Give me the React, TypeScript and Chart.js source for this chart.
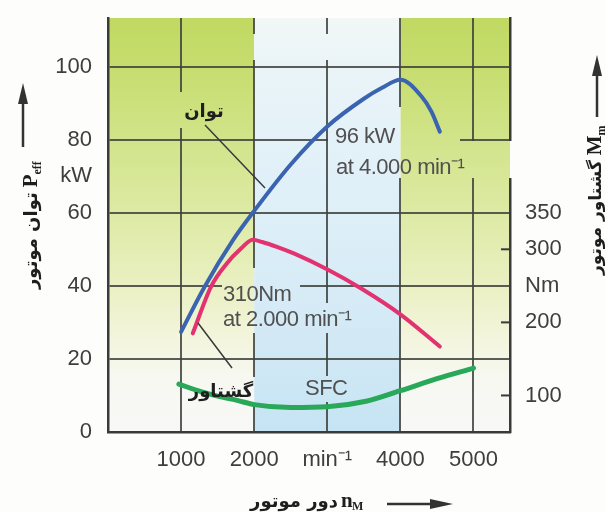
import React, { useEffect, useRef } from 'react';
import { Chart, registerables } from 'chart.js';
Chart.register(...registerables);

// ---------- data ----------
const rpmTicks = [1000, 2000, 3000, 4000, 5000];
const rpmTickLabels = ['1000', '2000', 'min⁻¹', '4000', '5000'];
const kwTicks = [0, 20, 40, 60, 70, 80, 100];
const kwTickLabels = ['0', '20', '40', '60', 'kW', '80', '100'];
const nmTicks = [100, 200, 250, 300, 350];
const nmTickLabels = ['100', '200', 'Nm', '300', '350'];
const nmTickMarks = [100, 200, 300];

const powerRpm = [1000, 1320, 1710, 2000, 2500, 3000, 3500, 3750, 4000, 4290, 4425, 4540];
const powerKw = [27.4, 39.7, 52.5, 60.5, 73.2, 83.6, 91.2, 94.2, 96.4, 91.8, 87.7, 82.2];
const torqueRpm = [1160, 1410, 1620, 1820, 1980, 2110, 2320, 2550, 3010, 3470, 4000, 4540];
const torqueNm = [185, 249, 280, 301, 313, 310, 303, 294, 272, 246, 211, 167];
const sfcRpm = [970, 1250, 1500, 1780, 2000, 2500, 3000, 3530, 4000, 4500, 5000];
const sfcVal = [13.1, 11.2, 9.8, 8.6, 7.5, 6.7, 6.9, 8.4, 11.3, 14.6, 17.5];

const powerLabel = 'توان';
const torqueLabel = 'گشتاور';
const sfcLabel = 'SFC';
const powerNote = ['96 kW', 'at 4.000 min⁻¹'];
const torqueNote = ['310Nm', 'at 2.000 min⁻¹'];
const leftTitle = 'توان موتور';
const rightTitle = 'گشتاور موتور';
const bottomTitle = 'دور موتور';

// ---------- styles ----------
const LAT = '"Liberation Sans", Arial, sans-serif';
const FA = '"DejaVu Sans", sans-serif';
const SER = '"Liberation Serif", "DejaVu Serif", serif';
const TXT = '#3e3e3e';
const GRID = 'rgba(62,66,60,0.85)';
const FRAME = '#3a3a3a';

function paintBg(ctx: CanvasRenderingContext2D, area: any, xs: any, ys: any) {
  const { left, right, top, bottom } = area;
  const h = bottom - top;
  const f = (v: number) => Math.min(1, Math.max(0, (ys.getPixelForValue(v) - top) / h));
  const x2 = xs.getPixelForValue(2000);
  const x4 = xs.getPixelForValue(4000);
  const green = ctx.createLinearGradient(0, top, 0, bottom);
  green.addColorStop(0, 'rgb(192,217,98)');
  green.addColorStop(f(100), 'rgb(198,221,110)');
  green.addColorStop(f(80), 'rgb(209,228,138)');
  green.addColorStop(f(60), 'rgb(221,234,164)');
  green.addColorStop(f(40), 'rgb(234,240,194)');
  green.addColorStop(f(25), 'rgb(243,245,222)');
  green.addColorStop(f(14), 'rgb(247,248,242)');
  green.addColorStop(1, 'rgb(248,248,246)');
  const blue = ctx.createLinearGradient(0, top, 0, bottom);
  blue.addColorStop(0, 'rgb(242,247,246)');
  blue.addColorStop(f(100), 'rgb(234,244,248)');
  blue.addColorStop(f(60), 'rgb(222,239,248)');
  blue.addColorStop(f(20), 'rgb(208,232,245)');
  blue.addColorStop(1, 'rgb(198,228,244)');
  ctx.fillStyle = green;
  ctx.fillRect(left, top, x2 - left, h);
  ctx.fillRect(x4, top, right - x4, h);
  ctx.fillStyle = blue;
  ctx.fillRect(x2, top, x4 - x2, h);
}

// label boxes that hide the grid behind the texts [x, y, w, h]
const masks: number[][] = [
  [175, 92, 53, 36],
  [328, 107, 132, 42],
  [334, 141, 182, 37],
  [222, 268, 78, 35],
  [222, 303, 135, 30],
  [303, 376, 47, 26],
  [185, 377, 73, 29],
  [245, 34, 90, 26],
];

function arrow(ctx: CanvasRenderingContext2D, x1: number, y1: number, x2: number, y2: number, head = 21, hw = 5) {
  const a = Math.atan2(y2 - y1, x2 - x1);
  const c = Math.cos(a), s = Math.sin(a);
  ctx.beginPath();
  ctx.moveTo(x1, y1);
  ctx.lineTo(x2 - head * 0.6 * c, y2 - head * 0.6 * s);
  ctx.stroke();
  ctx.beginPath();
  ctx.moveTo(x2, y2);
  ctx.lineTo(x2 - head * c + hw * s, y2 - head * s - hw * c);
  ctx.lineTo(x2 - head * c - hw * s, y2 - head * s + hw * c);
  ctx.closePath();
  ctx.fill();
}

function rotatedTitle(ctx: CanvasRenderingContext2D, x: number, y: number, fa: string, main: string, sub: string, size: number) {
  ctx.save();
  ctx.translate(x, y);
  ctx.rotate(-Math.PI / 2);
  ctx.fillStyle = '#1e1e1e';
  ctx.textAlign = 'left';
  ctx.textBaseline = 'alphabetic';
  ctx.font = `bold ${size}px ${FA}`;
  ctx.fillText(fa, 0, 0);
  const w = ctx.measureText(fa).width;
  ctx.font = `bold 21px ${SER}`;
  ctx.fillText(main, w + 5, 0);
  const wm = ctx.measureText(main).width;
  ctx.font = `bold 12px ${SER}`;
  ctx.fillText(sub, w + 5 + wm, 4);
  ctx.restore();
}

const decor = {
  id: 'decor',
  beforeDraw(chart: any) {
    const ctx: CanvasRenderingContext2D = chart.ctx;
    ctx.save();
    ctx.fillStyle = '#fdfdfc';
    ctx.fillRect(0, 0, chart.width, chart.height);
    paintBg(ctx, chart.chartArea, chart.scales.x, chart.scales.y);
    ctx.restore();
  },
  beforeDatasetsDraw(chart: any) {
    const ctx: CanvasRenderingContext2D = chart.ctx;
    const a = chart.chartArea;
    masks.forEach(([x, y, w, h]) => {
      ctx.save();
      ctx.beginPath();
      ctx.rect(x, y, w, h);
      ctx.clip();
      ctx.fillStyle = '#fdfdfc';
      ctx.fillRect(x, y, w, h);
      ctx.beginPath();
      ctx.rect(a.left, a.top, a.right - a.left, a.bottom - a.top);
      ctx.clip();
      paintBg(ctx, a, chart.scales.x, chart.scales.y);
      ctx.restore();
    });
    // inward tick marks on right axis
    const y2 = chart.scales.y2;
    ctx.save();
    ctx.strokeStyle = FRAME;
    ctx.lineWidth = 2;
    nmTickMarks.forEach((v) => {
      const py = y2.getPixelForValue(v);
      ctx.beginPath();
      ctx.moveTo(a.right - 9, py);
      ctx.lineTo(a.right, py);
      ctx.stroke();
    });
    ctx.restore();
  },
  afterDatasetsDraw(chart: any) {
    const ctx: CanvasRenderingContext2D = chart.ctx;
    ctx.save();
    // leader lines
    ctx.strokeStyle = '#3a3a3a';
    ctx.lineWidth = 1.5;
    ctx.beginPath();
    ctx.moveTo(205, 125);
    ctx.lineTo(265, 188);
    ctx.moveTo(198, 323);
    ctx.lineTo(232, 368);
    ctx.stroke();

    // latin annotations
    ctx.fillStyle = '#505050';
    ctx.font = `22px ${LAT}`;
    ctx.textAlign = 'left';
    ctx.textBaseline = 'middle';
    (ctx as any).letterSpacing = '-0.5px';
    ctx.fillText(powerNote[0], 335, 137);
    ctx.fillText(powerNote[1], 336, 168);
    ctx.fillText(torqueNote[0], 223, 295);
    ctx.fillText(torqueNote[1], 223, 320);
    ctx.fillText(sfcLabel, 305, 389);
    (ctx as any).letterSpacing = '0px';

    // persian annotations
    ctx.fillStyle = '#1e1e1e';
    ctx.font = `bold 18px ${FA}`;
    ctx.textAlign = 'center';
    ctx.textBaseline = 'alphabetic';
    ctx.fillText(powerLabel, 204, 117);
    ctx.fillText(torqueLabel, 221, 397);

    // axis titles
    rotatedTitle(ctx, 37, 289, leftTitle, 'P', 'eff', 18);
    rotatedTitle(ctx, 601, 275, rightTitle, 'M', 'm', 17);

    ctx.fillStyle = '#1e1e1e';
    ctx.font = `bold 18px ${FA}`;
    ctx.textAlign = 'right';
    ctx.fillText(bottomTitle, 338, 507);
    ctx.textAlign = 'left';
    ctx.font = `bold 21px ${SER}`;
    ctx.fillText('n', 341, 507);
    ctx.font = `bold 12px ${SER}`;
    ctx.fillText('M', 352, 510);

    // arrows
    ctx.strokeStyle = '#333';
    ctx.fillStyle = '#333';
    ctx.lineWidth = 2.5;
    arrow(ctx, 23, 147, 23, 83);
    arrow(ctx, 597, 117, 597, 55);
    arrow(ctx, 387, 504, 453, 504, 23, 5);
    ctx.restore();
  },
};

const pts = (xs: number[], ys: number[]) => xs.map((x, i) => ({ x, y: ys[i] }));
const noPad = (s: any) => {
  s.paddingTop = 0;
  s.paddingBottom = 0;
  s.paddingLeft = 0;
  s.paddingRight = 0;
};

export default function App() {
  const ref = useRef<HTMLCanvasElement>(null);
  useEffect(() => {
    const tickFont = { family: LAT, size: 22 };
    const chart = new Chart(ref.current!, {
      type: 'line',
      data: {
        datasets: [
          { data: pts(sfcRpm, sfcVal), yAxisID: 'y', borderColor: 'rgb(40,168,88)', borderWidth: 5 },
          { data: pts(torqueRpm, torqueNm), yAxisID: 'y2', borderColor: 'rgb(226,50,112)', borderWidth: 4 },
          { data: pts(powerRpm, powerKw), yAxisID: 'y', borderColor: 'rgb(58,100,176)', borderWidth: 4 },
        ] as any,
      },
      options: {
        animation: false,
        responsive: false,
        devicePixelRatio: 1,
        layout: { padding: { top: 18, left: 0, right: 0, bottom: 0 } },
        elements: {
          point: { radius: 0 },
          line: { cubicInterpolationMode: 'monotone', borderCapStyle: 'round', fill: false },
        },
        plugins: { legend: { display: false }, tooltip: { enabled: false } },
        scales: {
          x: {
            type: 'linear',
            min: 0,
            max: 5500,
            afterBuildTicks: (s: any) => { s.ticks = rpmTicks.map((v) => ({ value: v })); },
            afterFit: (s: any) => { s.height = 80; noPad(s); },
            ticks: {
              autoSkip: false,
              maxRotation: 0,
              padding: 15,
              color: TXT,
              font: tickFont,
              callback: (v: any) => rpmTickLabels[rpmTicks.indexOf(Number(v))] ?? '',
            },
            grid: { color: GRID, lineWidth: 2, drawTicks: false },
            border: { display: true, color: FRAME, width: 2.5 },
          },
          y: {
            position: 'left',
            min: 0,
            max: 113.3,
            afterBuildTicks: (s: any) => { s.ticks = kwTicks.map((v) => ({ value: v })); },
            afterFit: (s: any) => { s.width = 108; noPad(s); },
            ticks: {
              autoSkip: false,
              padding: 16,
              color: TXT,
              font: tickFont,
              callback: (v: any) => kwTickLabels[kwTicks.indexOf(Number(v))] ?? '',
            },
            grid: {
              lineWidth: 2,
              drawTicks: false,
              color: (c: any) => (c.tick && (c.tick.value === 70 || c.tick.value === 0) ? 'rgba(0,0,0,0)' : GRID),
            },
            border: { display: true, color: FRAME, width: 2.5 },
          },
          y2: {
            position: 'right',
            min: 50,
            max: 616.5,
            afterBuildTicks: (s: any) => { s.ticks = nmTicks.map((v) => ({ value: v })); },
            afterFit: (s: any) => { s.width = 95; noPad(s); },
            ticks: {
              autoSkip: false,
              padding: 15,
              color: TXT,
              font: tickFont,
              callback: (v: any) => nmTickLabels[nmTicks.indexOf(Number(v))] ?? '',
            },
            grid: { display: false, drawOnChartArea: false, drawTicks: false },
            border: { display: true, color: FRAME, width: 2.5 },
          },
        },
      } as any,
      plugins: [decor],
    });
    return () => chart.destroy();
  }, []);
  return (
    <div style={{ position: 'fixed', left: 0, top: 0, width: 605, height: 512, background: '#fdfdfc' }}>
      <canvas ref={ref} width={605} height={512} style={{ display: 'block', width: 605, height: 512 }} />
    </div>
  );
}
